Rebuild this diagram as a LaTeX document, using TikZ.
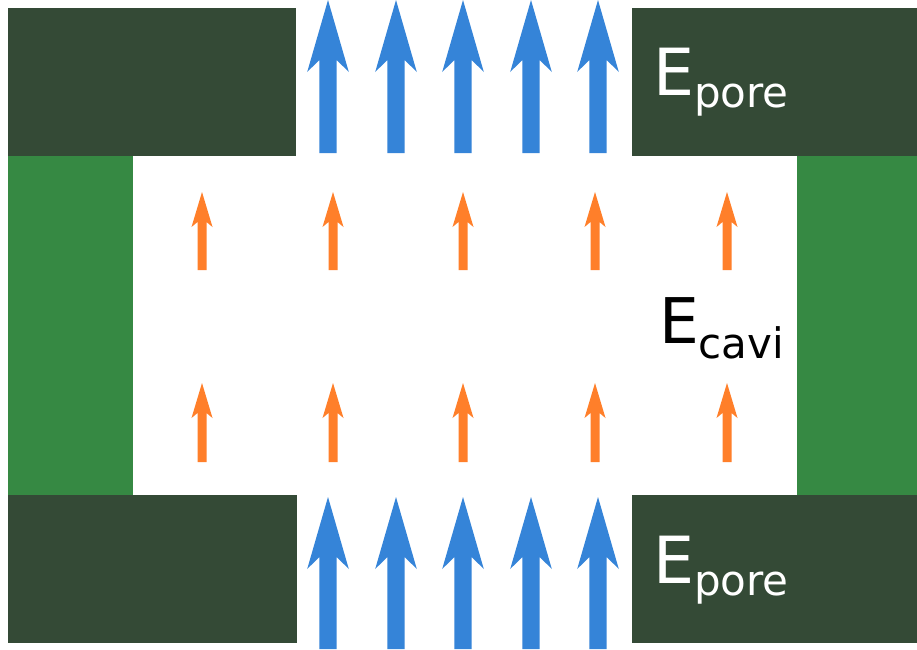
\documentclass[tikz,border=0pt]{standalone}
\usepackage{fontspec}
\setmainfont{DejaVu Sans}
\definecolor{darkwall}{HTML}{344A36}
\definecolor{greenwall}{HTML}{368943}
\definecolor{bluearrow}{HTML}{3584D8}
\definecolor{orangearrow}{HTML}{FF7F2A}
\tikzset{
  darkblock/.style={fill=darkwall, draw=none},
  greenblock/.style={fill=greenwall, draw=none},
  bigarrow/.style={fill=bluearrow, draw=none},
  smallarrow/.style={fill=orangearrow, draw=none},
  elabel/.style={anchor=base west, inner sep=0pt, outer sep=0pt}
}
\newcommand{\bigarr}[3]{% center x, tip y, bottom y
  \fill[bigarrow] (#1-8.7,#3) -- (#1-8.7,#2+60) -- (#1-20.8,#2+72) -- (#1,#2) -- (#1+20.8,#2+72) -- (#1+8.7,#2+60) -- (#1+8.7,#3) -- cycle;}
\newcommand{\smallarr}[3]{%
  \fill[smallarrow] (#1-4.5,#3) -- (#1-4.5,#2+30) -- (#1-10.5,#2+35) -- (#1,#2) -- (#1+10.5,#2+35) -- (#1+4.5,#2+30) -- (#1+4.5,#3) -- cycle;}
\begin{document}
\begin{tikzpicture}[x=1pt,y=-1pt]
\useasboundingbox (0,0) rectangle (917,649);
\fill[white] (0,0) rectangle (917,649);
% walls
\fill[darkblock] (8,8) rectangle (296,156);
\fill[darkblock] (632,8) rectangle (917,156);
\fill[greenblock] (8,156) rectangle (133,495);
\fill[greenblock] (797,156) rectangle (917,495);
\fill[darkblock] (8,495) rectangle (297,643);
\fill[darkblock] (632,495) rectangle (917,643);
% blue arrows
\foreach \c in {328,396,463,531,598} {
  \bigarr{\c}{0}{153}
  \bigarr{\c}{497}{649}
}
% orange arrows
\foreach \c in {202,333,463,595,727} {
  \smallarr{\c}{192}{270}
  \smallarr{\c}{383}{462}
}
% labels
\node[elabel, text=white] (ptop) at (653,95) {\fontsize{65}{65}\selectfont E\raisebox{-12pt}{\fontsize{42}{42}\selectfont pore}};
\node[elabel, text=white] (pbot) at (653,583) {\fontsize{65}{65}\selectfont E\raisebox{-12pt}{\fontsize{42}{42}\selectfont pore}};
\node[elabel, text=black] (cavi) at (659,343) {\fontsize{63}{63}\selectfont E\raisebox{-15pt}{\fontsize{42}{42}\selectfont cavi}};
\end{tikzpicture}
\end{document}
